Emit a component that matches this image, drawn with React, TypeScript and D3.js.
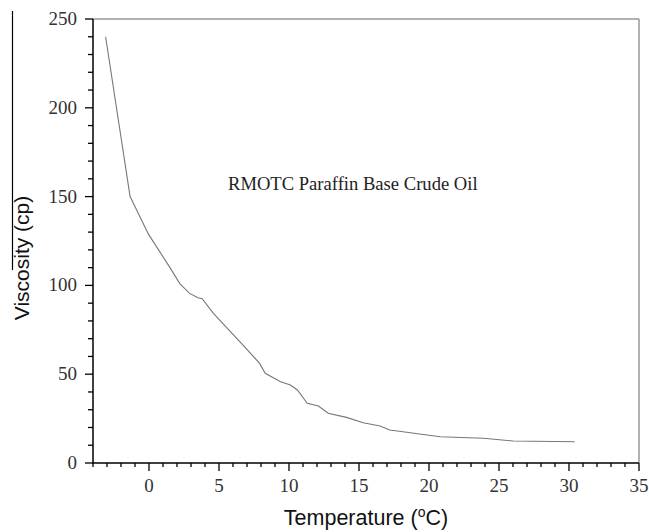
import React from "react";
import * as d3 from "d3";

const temps = [-3.1, -1.35, -0.05, 1.5, 2.2, 2.9, 3.5, 3.8, 4.6, 6.6, 7.9, 8.3, 9.4, 10.1, 10.6, 11.3, 12.1, 12.8, 14.1, 15.3, 16.5, 17.2, 20.8, 23.9, 26.0, 30.4];
const viscosity = [240, 150, 129, 110, 101, 95.5, 93, 92.5, 84.3, 67.4, 56.1, 50.5, 45.8, 43.9, 41.1, 33.6, 32.1, 28, 25.7, 22.7, 20.8, 18.6, 14.8, 13.9, 12.4, 12];
const xTicks = [0, 5, 10, 15, 20, 25, 30, 35];
const yTicks = [0, 50, 100, 150, 200, 250];
const xMinor = d3.range(-4, 35.01, 1);
const yMinor = d3.range(0, 250.01, 10);

export default function App() {
  const left = 93, right = 639, top = 19, bottom = 463;
  const x = d3.scaleLinear().domain([-4, 35]).range([left, right]);
  const y = d3.scaleLinear().domain([0, 250]).range([bottom, top]);
  const line = d3.line<number>().x((_, i) => x(temps[i])).y((d) => y(d));
  const serif = "'Liberation Serif', 'Times New Roman', serif";
  const sans = "'Liberation Sans', Arial, sans-serif";
  return (
    <svg width={649} height={532} style={{ position: "absolute", left: 0, top: 0, background: "#fff" }}>
      <line x1={12.5} x2={12.5} y1={11} y2={270} stroke="#000" strokeWidth={1.2} />
      {/* frame top/right */}
      <line x1={left} x2={right} y1={top} y2={top} stroke="#999" strokeWidth={1.5} />
      <line x1={right} x2={right} y1={top} y2={bottom} stroke="#999" strokeWidth={1.5} />
      {/* axes */}
      <line x1={left} x2={left} y1={top} y2={bottom + 0.75} stroke="#000" strokeWidth={1.5} />
      <line x1={left} x2={right} y1={bottom} y2={bottom} stroke="#000" strokeWidth={1.5} />
      {yMinor.map((v) => (
        <line key={"ym" + v} x1={left - (v % 50 === 0 ? 8 : 5)} x2={left} y1={y(v)} y2={y(v)} stroke="#000" strokeWidth={1.3} />
      ))}
      {xMinor.map((v) => (
        <line key={"xm" + v} x1={x(v)} x2={x(v)} y1={bottom} y2={bottom + (Math.round(v) % 5 === 0 ? 8 : 4)} stroke="#000" strokeWidth={1.3} />
      ))}
      {yTicks.map((v) => (
        <text key={"yt" + v} x={left - 16} y={y(v) + 6} textAnchor="end" fontFamily={serif} fontSize={19} fill="#333">{v}</text>
      ))}
      {xTicks.map((v) => (
        <text key={"xt" + v} x={x(v)} y={bottom + 29} textAnchor="middle" fontFamily={serif} fontSize={19} fill="#333">{v}</text>
      ))}
      <path d={line(viscosity) || ""} fill="none" stroke="#777" strokeWidth={1.1} />
      <text x={228} y={190} fontFamily={serif} fontSize={18.6} fill="#222">RMOTC Paraffin Base Crude Oil</text>
      <text x={366} y={525} textAnchor="middle" fontFamily={sans} fontSize={21.5} fill="#111">
        Temperature (<tspan dy={-8} fontSize={14}>o</tspan><tspan dy={8}>C)</tspan>
      </text>
      <text transform="translate(28.5,258) rotate(-90)" textAnchor="middle" fontFamily={sans} fontSize={21} fill="#111">Viscosity (cp)</text>
    </svg>
  );
}
